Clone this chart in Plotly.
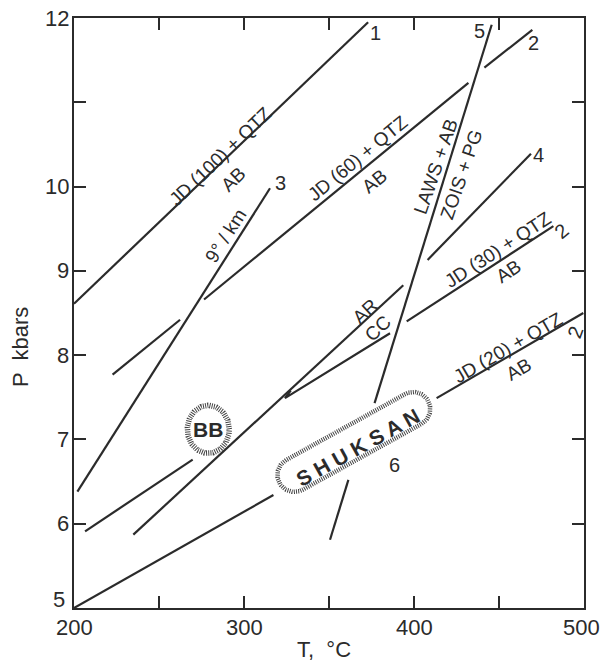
import numpy as np
import plotly.graph_objects as go

# ---------------- data (T in °C, P in kbar) ----------------
jd100_T = [200, 373]
jd100_P = [8.61, 11.95]

geotherm_T = [202, 315.3]
geotherm_P = [6.38, 9.98]

jd60_T = [222.7, 262.4, None, 276.5, 432, None, 441.4, 469.6]
jd60_P = [7.77, 8.42, None, 8.66, 11.23, None, 11.41, 11.86]

arcc_T = [234.9, 393.7]
arcc_P = [5.87, 8.83]

jd30_T = [206.5, 269.8, None, 327.5, 324.1, 385.9, None, 395.7, 482]
jd30_P = [5.91, 6.76, None, 7.58, 7.49, 8.26, None, 8.40, 9.53]

line4_T = [408, 468.8]
line4_P = [9.13, 10.39]

laws_T = [445.7, 376.8, None, 361.4, 350.6]
laws_P = [11.92, 7.43, None, 6.52, 5.81]

jd20_T = [200, 317.3, None, 413.3, 499.6]
jd20_P = [5.0, 6.34, None, 7.49, 8.50]

x_tickvals = [200, 250, 300, 350, 400, 450, 500]
x_ticktext = ["200", "", "300", "", "400", "", "500"]
y_tickvals = [5, 6, 7, 8, 9, 10, 11, 12]
y_ticktext = ["5", "6", "7", "8", "9", "10", "", "12"]

# labels: (text, T, P, angle)
labels = [
    ("JD (100) + QTZ", 285.9, 10.36, -43.7),
    ("AB", 293.7, 10.08, -43.7),
    ("9° / km", 289.3, 9.42, -57.6),
    ("JD (60) + QTZ", 366.8, 10.33, -39.4),
    ("AB", 376.5, 10.06, -39.4),
    ("LAWS + AB", 412.8, 10.24, -71),
    ("ZOIS + PG", 428.0, 10.14, -71),
    ("JD (30) + QTZ", 449.6, 9.25, -33),
    ("AB", 455.5, 8.99, -33),
    ("AR", 371.2, 8.52, -42.8),
    ("CC", 378.6, 8.32, -42.8),
    ("JD (20) + QTZ", 455.5, 8.09, -30),
    ("AB", 461.4, 7.83, -30),
]
numbers = [
    ("1", 377.1, 11.82, 0),
    ("5", 438.8, 11.84, 0),
    ("2", 470.2, 11.70, 0),
    ("3", 321.2, 10.04, 0),
    ("4", 473.1, 10.38, 0),
    ("2", 486.9, 9.47, -40),
    ("2", 494.7, 8.28, -70),
    ("6", 388.8, 6.70, 0),
]

# field markers
bb_center = (279.0, 7.12)
shuksan_center = (364.6, 6.97)

# ---------------- layout geometry ----------------
W, H = 604, 661
ML, MR, MT, MB = 74, 20, 18, 53
PW, PH = W - ML - MR, H - MT - MB
XR, YR = (200, 500), (5, 12)
px_per_T = PW / (XR[1] - XR[0])
px_per_P = PH / (YR[1] - YR[0])

INK = "#2b2b2b"
FONT = "Liberation Sans"

fig = go.Figure()

def add_line(T, P):
    fig.add_trace(go.Scatter(x=T, y=P, mode="lines",
                             line=dict(color=INK, width=2.2),
                             hoverinfo="skip", showlegend=False))

for T, P in [(jd100_T, jd100_P), (geotherm_T, geotherm_P), (jd60_T, jd60_P),
             (arcc_T, arcc_P), (jd30_T, jd30_P), (line4_T, line4_P),
             (laws_T, laws_P), (jd20_T, jd20_P)]:
    add_line(T, P)

hatch = dict(color="#444444", width=5.5, dash="1px,1.2px")

# BB ellipse (pixel radii)
t = np.linspace(0, 2 * np.pi, 200)
bb_rx, bb_ry = 21, 24
fig.add_trace(go.Scatter(
    x=bb_center[0] + bb_rx * np.cos(t) / px_per_T,
    y=bb_center[1] + bb_ry * np.sin(t) / px_per_P,
    mode="lines", line=hatch, hoverinfo="skip", showlegend=False))

# SHUKSAN stadium
ang = np.deg2rad(29)
half_len, rad = 68, 17
u = np.array([np.cos(ang), np.sin(ang)])
a1 = np.linspace(ang - np.pi / 2, ang + np.pi / 2, 60)
a2 = np.linspace(ang + np.pi / 2, ang + 3 * np.pi / 2, 60)
pts = []
for a in a1:
    pts.append(half_len * u + rad * np.array([np.cos(a), np.sin(a)]))
for a in a2:
    pts.append(-half_len * u + rad * np.array([np.cos(a), np.sin(a)]))
pts.append(pts[0])
pts = np.array(pts)
fig.add_trace(go.Scatter(
    x=shuksan_center[0] + pts[:, 0] / px_per_T,
    y=shuksan_center[1] + pts[:, 1] / px_per_P,
    mode="lines", line=dict(color="#444444", width=4.5, dash="1px,1.2px"),
    hoverinfo="skip", showlegend=False))

for txt, T, P, a in labels:
    fig.add_annotation(x=T, y=P, text=txt, textangle=a, showarrow=False,
                       font=dict(family=FONT, size=19, color=INK))
for txt, T, P, a in numbers:
    fig.add_annotation(x=T, y=P, text=txt, textangle=a, showarrow=False,
                       font=dict(family=FONT, size=20, color=INK))

fig.add_annotation(x=bb_center[0], y=bb_center[1], text="<b>BB</b>", showarrow=False,
                   font=dict(family=FONT, size=21, color=INK))
fig.add_annotation(x=366.8, y=6.91, text="<b>S H U K S A N</b>", textangle=-29,
                   showarrow=False, font=dict(family=FONT, size=21, color=INK))

# tick labels
for v, txt in zip(x_tickvals, x_ticktext):
    if txt:
        last = v == XR[1]
        fig.add_annotation(x=v, xref="x", y=0, yref="paper", yanchor="middle",
                           yshift=-19, xanchor="right" if last else "center",
                           xshift=17 if last else 0,
                           text=txt, showarrow=False, borderpad=0,
                           font=dict(family=FONT, size=22, color=INK))
for v, txt in zip(y_tickvals, y_ticktext):
    if txt:
        first = v == YR[0]
        fig.add_annotation(x=0, xref="paper", y=v, yref="y", xanchor="right",
                           yanchor="middle", xshift=-8 if first else -4,
                           yshift=9 if first else 0, text=txt, showarrow=False,
                           borderpad=0, font=dict(family=FONT, size=22, color=INK))

# axis titles
fig.add_annotation(xref="paper", yref="paper", x=(324 - ML) / PW, y=(MT + PH - 649) / PH,
                   xanchor="center", yanchor="middle",
                   text="T,  °C", showarrow=False,
                   font=dict(family=FONT, size=22, color=INK))
fig.add_annotation(xref="paper", yref="paper", x=(20 - ML) / PW, y=(MT + PH - 347) / PH,
                   xanchor="center", yanchor="middle",
                   text="P  kbars", textangle=-90, showarrow=False,
                   font=dict(family=FONT, size=22, color=INK))

axis_common = dict(showline=True, linewidth=2, linecolor=INK, mirror="ticks",
                   ticks="inside", ticklen=12, tickwidth=2, tickcolor=INK,
                   showgrid=False, zeroline=False, showticklabels=False)

fig.update_layout(
    width=W, height=H,
    margin=dict(l=ML, r=MR, t=MT, b=MB),
    paper_bgcolor="white", plot_bgcolor="white",
    xaxis=dict(range=list(XR), tickvals=x_tickvals, **axis_common),
    yaxis=dict(range=list(YR), tickvals=y_tickvals, **axis_common),
    showlegend=False,
)

fig.write_html("out.html", config={"displayModeBar": False},
               post_script="document.body.style.margin='0';document.body.style.overflow='hidden';")
